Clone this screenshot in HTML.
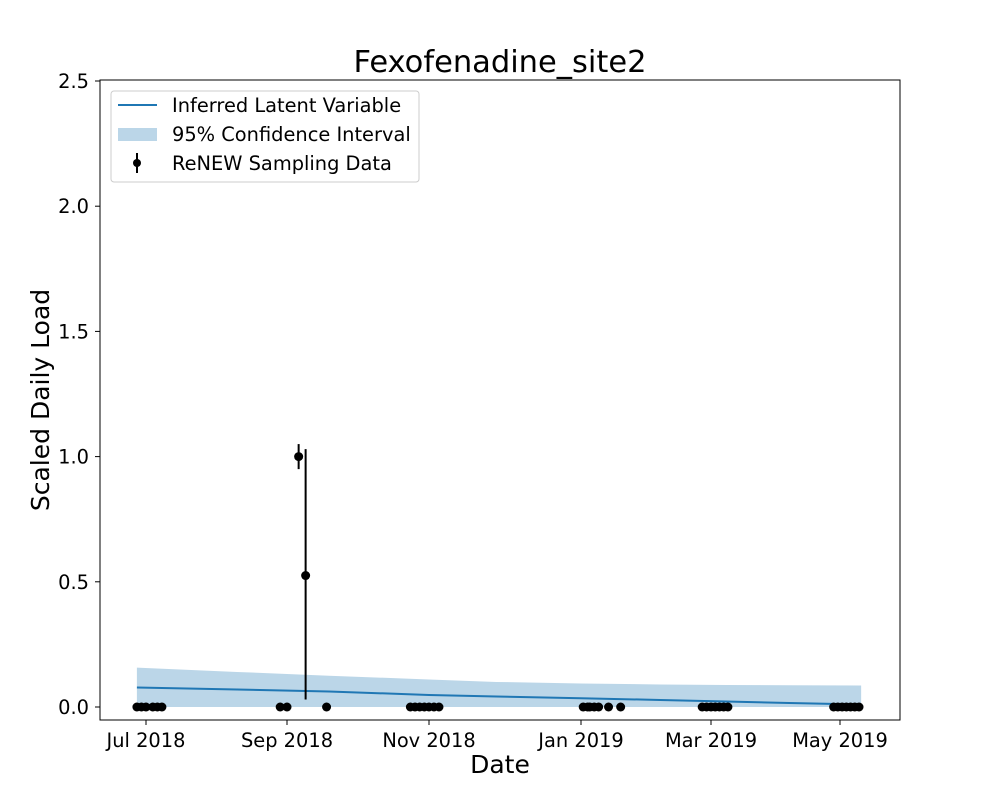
<!DOCTYPE html>
<html><head><meta charset="utf-8"><style>
body{margin:0;background:#fff}
svg text{font-family:"DejaVu Sans","Liberation Sans",sans-serif;fill:#000}
</style></head><body>
<svg id="chart" width="1000" height="800" viewBox="0 0 1000 800" xmlns="http://www.w3.org/2000/svg">
<rect width="1000" height="800" fill="#fff"/>
<text x="500" y="72" font-size="30.5" text-anchor="middle">Fexofenadine_site2</text>
<g id="band"></g>
<g id="marks"></g>
<rect x="100" y="80" width="800" height="640" fill="none" stroke="#000" stroke-width="1"/>
<g id="axes"></g>
<text x="500" y="773" font-size="25" text-anchor="middle">Date</text>
<text transform="translate(49,400) rotate(-90)" font-size="25" text-anchor="middle">Scaled Daily Load</text>
<g>
<rect x="111" y="91" width="308" height="91" rx="3" fill="#fff" fill-opacity="0.8" stroke="#ccc"/>
<line x1="118" y1="105" x2="157" y2="105" stroke="#1f77b4" stroke-width="2"/>
<text x="172" y="112" font-size="19.4">Inferred Latent Variable</text>
<rect x="118" y="128" width="39" height="13" fill="#1f77b4" fill-opacity="0.3"/>
<text x="172" y="141" font-size="19.4">95% Confidence Interval</text>
<line x1="137" y1="153" x2="137" y2="173" stroke="#000" stroke-width="2"/>
<circle cx="137" cy="163" r="4" fill="#000"/>
<text x="172" y="170" font-size="19.4">ReNEW Sampling Data</text>
</g>
</svg>
<script>
// days since 2018-07-01
const tickDays=[0,62,123,184,243,304];
const tickLabels=["Jul 2018","Sep 2018","Nov 2018","Jan 2019","Mar 2019","May 2019"];
const yTicks=[0,0.5,1.0,1.5,2.0,2.5];
const yTickLabels=["0.0","0.5","1.0","1.5","2.0","2.5"];
const lineDays=[-4,40,80,123,150,184,220,250,280,314];
const lineVals=[0.078,0.070,0.062,0.048,0.042,0.035,0.028,0.022,0.016,0.010];
const upperVals=[0.157,0.140,0.125,0.110,0.100,0.094,0.090,0.088,0.087,0.086];
const lowerVals=[0,0,0,0,0,0,0,0,0,0];
const pointDays=[-4,-2,0,3,5,7,59,62,67,70,79,115,117,119,121,123,125,127,185,187,188,190,192,196.5,202,239,241,243,245,247,249,251,301,303,305,307,309,311,313];
const pointVals=[0,0,0,0,0,0,0,0,1.0,0.525,0,0,0,0,0,0,0,0,0,0,0,0,0,0,0,0,0,0,0,0,0,0,0,0,0,0,0,0,0];
const errLow=[0,0,0,0,0,0,0,0,0.95,0.03,0,0,0,0,0,0,0,0,0,0,0,0,0,0,0,0,0,0,0,0,0,0,0,0,0,0,0,0,0];
const errHigh=[0,0,0,0,0,0,0,0,1.05,1.03,0,0,0,0,0,0,0,0,0,0,0,0,0,0,0,0,0,0,0,0,0,0,0,0,0,0,0,0,0];

const tickPx=[146,287,429,581,711,840];
function xs(d){
  let i=0;
  if(d<=tickDays[0]) i=0; else if(d>=tickDays[tickDays.length-1]) i=tickDays.length-2;
  else {while(d>tickDays[i+1]) i++;}
  const t=(d-tickDays[i])/(tickDays[i+1]-tickDays[i]);
  return tickPx[i]+t*(tickPx[i+1]-tickPx[i]);
}
function ys(v){return 707-v*250.4;}
const NS="http://www.w3.org/2000/svg";
function mk(tag,attrs,parent){const e=document.createElementNS(NS,tag);for(const k in attrs)e.setAttribute(k,attrs[k]);parent.appendChild(e);return e;}
const axes=document.getElementById('axes');
tickDays.forEach((d,i)=>{
  const x=xs(d);
  const l=mk('line',{x1:x,x2:x,y1:720,y2:725,stroke:'#000'},axes);
  
  
  const t=mk('text',{x:x,y:747,'font-size':19.4,'text-anchor':'middle'},axes);
  t.textContent=tickLabels[i];
  
  
});
yTicks.forEach((v,i)=>{
  const y=ys(v);
  const l=mk('line',{x1:95,x2:100,y1:y,y2:y,stroke:'#000'},axes);
  
  
  const t=mk('text',{x:89,y:y+7,'font-size':19.4,'text-anchor':'end'},axes);
  t.textContent=yTickLabels[i];
  
  
});
const band=document.getElementById('band');
let pts=lineDays.map((d,i)=>xs(d)+','+ys(upperVals[i]));
for(let i=lineDays.length-1;i>=0;i--)pts.push(xs(lineDays[i])+','+ys(lowerVals[i]));
const poly=mk('polygon',{points:pts.join(' '),fill:'#1f77b4','fill-opacity':0.3},band);


const marks=document.getElementById('marks');
const line=mk('polyline',{points:lineDays.map((d,i)=>xs(d)+','+ys(lineVals[i])).join(' '),fill:'none',stroke:'#1f77b4','stroke-width':2},marks);


pointDays.forEach((d,i)=>{
  const x=xs(d);
  if(errHigh[i]>errLow[i]){
    const e=mk('line',{x1:x,x2:x,y1:ys(errLow[i]),y2:ys(errHigh[i]),stroke:'#000','stroke-width':2},marks);
    
    
  }
  const c=mk('circle',{cx:x,cy:ys(pointVals[i]),r:4.5,fill:'#000'},marks);
  
  
});
</script>
</body></html>
